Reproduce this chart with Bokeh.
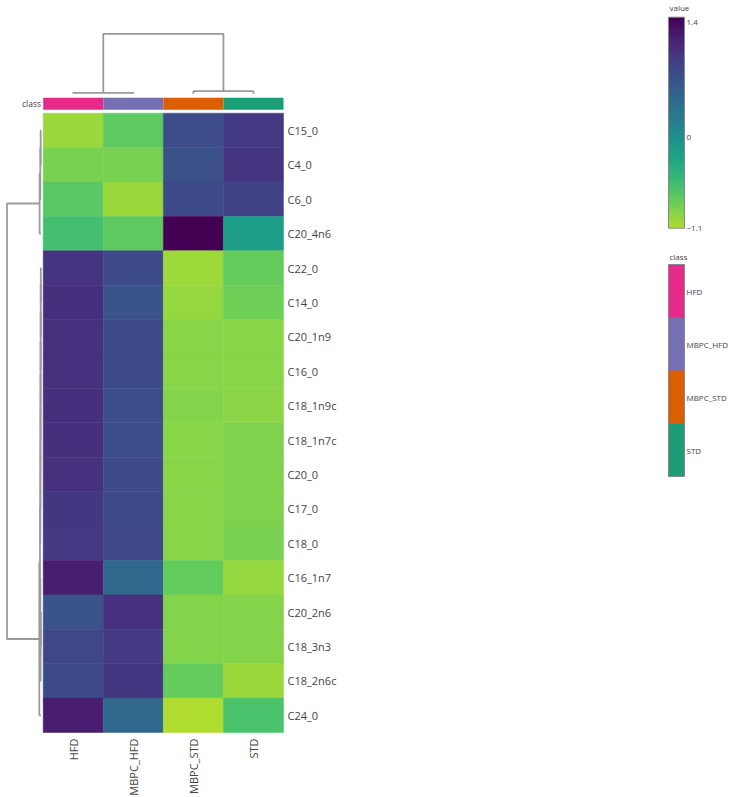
import numpy as np
from bokeh.plotting import figure
from bokeh.models import (Range1d, ColumnDataSource, LinearColorMapper, ColorBar,
                          FixedTicker)
from bokeh.transform import transform
from bokeh.palettes import Viridis256
from bokeh.core.properties import value
from bokeh.embed import file_html
from bokeh.resources import INLINE

# ---------------- data ----------------
columns = ["HFD", "MBPC_HFD", "MBPC_STD", "STD"]
rows = ["C15_0", "C4_0", "C6_0", "C20_4n6", "C22_0", "C14_0", "C20_1n9", "C16_0",
        "C18_1n9c", "C18_1n7c", "C20_0", "C17_0", "C18_0", "C16_1n7", "C20_2n6",
        "C18_3n3", "C18_2n6c", "C24_0"]
hfd      = [-1.00, -0.85, -0.70, -0.58, 1.02, 1.08, 1.05, 1.05, 1.07, 1.07, 1.05, 1.00, 0.97, 1.22, 0.72, 0.85, 0.82, 1.25]
mbpc_hfd = [-0.72, -0.85, -1.00, -0.72, 0.82, 0.72, 0.80, 0.80, 0.78, 0.78, 0.80, 0.82, 0.85, 0.50, 1.05, 0.98, 1.00, 0.50]
mbpc_std = [0.78, 0.75, 0.80, 1.47, -1.02, -0.98, -0.92, -0.92, -0.90, -0.92, -0.92, -0.92, -0.92, -0.75, -0.90, -0.90, -0.75, -1.10]
std      = [0.98, 1.02, 0.90, -0.15, -0.75, -0.80, -0.92, -0.92, -0.93, -0.88, -0.88, -0.88, -0.86, -0.98, -0.90, -0.90, -1.00, -0.62]
class_colors = ["#e7298a", "#7570b3", "#d95f02", "#1b9e77"]
value_low, value_high = -1.1, 1.47
value_ticks = [-1.1, 0, 1.4]

# linkages: (left, right, height); ids >= n refer to earlier merges
col_linkage = [(0, 1, 0.1), (2, 3, 0.26), (4, 5, 6.0)]
row_linkage = [
    (0, 1, 0.05), (18, 2, 0.10), (19, 3, 0.20),
    (4, 5, 0.03), (21, 6, 0.04), (22, 7, 0.05), (23, 8, 0.06), (24, 9, 0.07),
    (25, 10, 0.08), (26, 11, 0.09), (27, 12, 0.10),
    (14, 15, 0.03), (29, 16, 0.06), (13, 30, 0.10),
    (28, 31, 0.15), (32, 17, 0.25),
    (20, 33, 5.0),
]

# ---------------- layout constants (pixels) ----------------
W, H = 732, 797
HM_L, HM_R, HM_T, HM_B = 42.7, 283.0, 112.7, 732.0
ncol, nrow = len(columns), len(rows)
pxx = (HM_R - HM_L) / ncol
pxy = (HM_B - HM_T) / nrow
x0 = -0.5 - HM_L / pxx
y0 = -0.5 - HM_T / pxy

def px_to_x(px):
    return x0 + px / pxx

def px_to_y(py):
    return y0 + py / pxy

FONT = value("Open Sans")
TXT = "#444444"

p = figure(width=W, height=H, x_range=Range1d(x0, x0 + W / pxx),
           y_range=Range1d(y0 + H / pxy, y0), output_backend="svg",
           toolbar_location=None, min_border=0, x_axis_location=None,
           y_axis_location=None, outline_line_color=None)
p.grid.visible = False

# heatmap
palette = list(reversed(Viridis256[:226]))
mapper = LinearColorMapper(palette=palette, low=value_low, high=value_high)
series = [hfd, mbpc_hfd, mbpc_std, std]
xs, ys, vs = [], [], []
for j, s in enumerate(series):
    for i, v in enumerate(s):
        xs.append(j); ys.append(i); vs.append(v)
src = ColumnDataSource(dict(x=xs, y=ys, v=vs))
p.rect(x="x", y="y", width=1, height=1, source=src,
       fill_color=transform("v", mapper), line_color=transform("v", mapper), line_width=0.5)

# class bar
cb_top, cb_bot = px_to_y(97.3), px_to_y(109.3)
p.rect(x=list(range(ncol)), y=[(cb_top + cb_bot) / 2] * ncol, width=1,
       height=abs(cb_bot - cb_top), fill_color=class_colors, line_color=None)
p.text(x=[px_to_x(40.5)], y=[(cb_top + cb_bot) / 2], text=["class"], text_align="right",
       text_baseline="middle", text_font=FONT, text_font_size="8.5px", text_color=TXT)

# row labels
p.text(x=[px_to_x(287.0)] * nrow, y=list(range(nrow)), text=rows, text_align="left",
       text_baseline="middle", text_font=FONT, text_font_size="11px", text_color=TXT)
# column labels
p.text(x=list(range(ncol)), y=[px_to_y(738.0)] * ncol, text=columns, angle=np.pi / 2,
       text_align="right", text_baseline="middle", text_font=FONT,
       text_font_size="11px", text_color=TXT)

def dendro(linkage, n):
    pos = {i: float(i) for i in range(n)}
    hgt = {i: 0.0 for i in range(n)}
    out = []
    for k, (a, b, h) in enumerate(linkage):
        pa, pb = pos[a], pos[b]
        out.append(([pa, pa, pb, pb], [hgt[a], h, h, hgt[b]]))
        pos[n + k] = (pa + pb) / 2
        hgt[n + k] = h
    return out

LINE = "#9a9a9a"
# top dendrogram
base_t, root_t = px_to_y(93.3), px_to_y(33.3)
scale_t = (base_t - root_t) / col_linkage[-1][2]
segs = dendro(col_linkage, ncol)
p.multi_line([s[0] for s in segs], [[base_t - h * scale_t for h in s[1]] for s in segs],
             line_color=LINE, line_width=1.8)
# left dendrogram
base_l, root_l = px_to_x(40.5), px_to_x(6.5)
scale_l = (base_l - root_l) / row_linkage[-1][2]
segs = dendro(row_linkage, nrow)
p.multi_line([[base_l - h * scale_l for h in s[1]] for s in segs], [s[0] for s in segs],
             line_color=LINE, line_width=1.8)

LEG_FONT = "8px"
common = dict(orientation="vertical", width=16, padding=0, margin=0,
              major_label_text_font="Open Sans", major_label_text_font_size=LEG_FONT,
              major_label_text_color=TXT, label_standoff=2,
              major_tick_line_color=None, minor_tick_line_color=None,
              bar_line_color="#888888", bar_line_width=1,
              border_line_color=None, background_fill_alpha=0)

# value colorbar
vbar = ColorBar(color_mapper=mapper, ticker=FixedTicker(ticks=value_ticks),
                major_label_overrides={-1.1: "\u22121.1", 0: "0", 1.4: "1.4"},
                height=211, location=(668, H - 227.7), **common)
p.add_layout(vbar)

# class legend colorbar
cmap = LinearColorMapper(palette=list(reversed(class_colors)), low=0, high=ncol)
ticks = [k + 0.5 for k in range(ncol)]
cbar = ColorBar(color_mapper=cmap, ticker=FixedTicker(ticks=ticks),
                major_label_overrides={t: c for t, c in zip(ticks, reversed(columns))},
                height=212, location=(668, H - 476), **common)
p.add_layout(cbar)

# legend titles
p.text(x=[px_to_x(669.0), px_to_x(669.0)], y=[px_to_y(7.0), px_to_y(255.5)],
       text=["value", "class"], text_align="left", text_baseline="middle",
       text_font=FONT, text_font_size=LEG_FONT, text_color=TXT)

open("out.html", "w").write(file_html(p, INLINE))
